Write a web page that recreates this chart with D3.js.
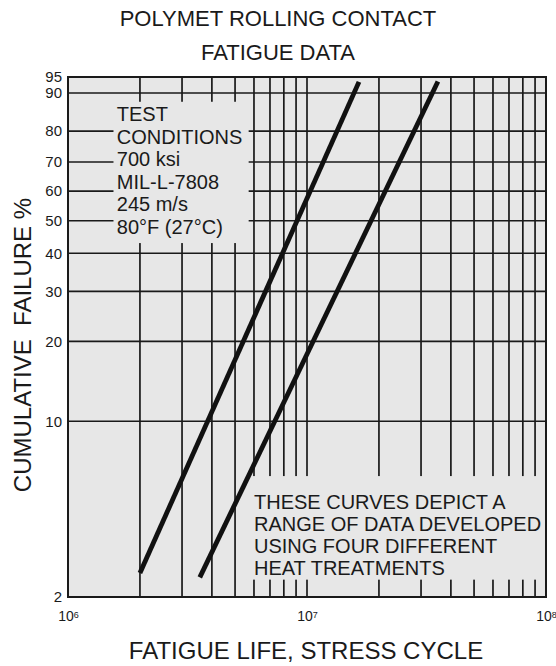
<!DOCTYPE html>
<html>
<head>
<meta charset="utf-8">
<script src="https://cdn.jsdelivr.net/npm/d3@7"></script>
<style>
  body { margin: 0; background: #fff; }
  svg { display: block; font-family: "Liberation Sans", Arial, sans-serif; }
</style>
</head>
<body>
<div id="chart"></div>
<script>
// percent failure ticks (weibull paper)
var pctTicks = [2, 10, 20, 30, 40, 50, 60, 70, 80, 90, 95];
// decades on the life axis
var decades = [1e6, 1e7, 1e8];
// two bounding curves: [life, cumulative %]
var lowLife = [2.0e6, 1.65e7],  lowPct = [2.5, 93.7];
var highLife = [3.56e6, 3.53e7], highPct = [2.4, 93.8];

var titleLines = ["POLYMET ROLLING CONTACT", "FATIGUE DATA"];
var testNotes = ["TEST", "CONDITIONS", "700 ksi", "MIL-L-7808", "245 m/s", "80°F (27°C)"];
var rangeNotes = ["THESE CURVES DEPICT A", "RANGE OF DATA DEVELOPED", "USING FOUR DIFFERENT", "HEAT TREATMENTS"];

var width = 556, height = 666,
    margin = { top: 77, left: 68, right: 10, bottom: 69 },
    innerW = width - margin.left - margin.right,
    innerH = height - margin.top - margin.bottom,
    ink = "#1a1a1a",
    paper = "#e7e7e7";

// weibull transform of percent failed
var wb = function(p){ return Math.log(-Math.log(1 - p / 100)); };

var xScale = d3.scaleLog().domain([1e6, 1e8]).range([0, innerW]);
var yScale = d3.scaleLinear()
    .domain([wb(2), wb(90), wb(95)])
    .range([innerH, 16, 0]);

var svg = d3.select("#chart").append("svg")
    .attr("width", width)
    .attr("height", height);

svg.selectAll(".title")
  .data(titleLines)
  .enter().append("text")
    .attr("class", "title")
    .attr("x", 278)
    .attr("y", function(d, i){ return 26 + i * 34; })
    .attr("text-anchor", "middle")
    .style("font-size", "22px")
    .attr("fill", ink)
    .text(function(d){ return d; });

var g = svg.append("g")
    .attr("transform", "translate(" + margin.left + "," + margin.top + ")");

g.append("rect")
    .attr("width", innerW)
    .attr("height", innerH)
    .attr("fill", paper);

// vertical grid: every 1..9 inside each decade
var minor = [];
decades.slice(0, -1).forEach(function(d){
  for (var k = 1; k < 10; k++) minor.push(d * k);
});
minor.push(1e8);

g.selectAll(".vgrid")
  .data(minor)
  .enter().append("line")
    .attr("class", "vgrid")
    .attr("x1", function(d){ return xScale(d); })
    .attr("x2", function(d){ return xScale(d); })
    .attr("y1", 0)
    .attr("y2", innerH)
    .attr("stroke", ink)
    .attr("stroke-width", 1.7);

g.selectAll(".hgrid")
  .data(pctTicks)
  .enter().append("line")
    .attr("class", "hgrid")
    .attr("x1", 0)
    .attr("x2", innerW)
    .attr("y1", function(d){ return yScale(wb(d)); })
    .attr("y2", function(d){ return yScale(wb(d)); })
    .attr("stroke", ink)
    .attr("stroke-width", 1.7);

// clear patches behind the two notes
var clearBoxes = [
  { x0: 1.55e6, x1: 5.7e6, p0: 88, p1: 43 },
  { x0: 5.6e6, x1: 9.6e7, p0: 6.1, p1: 2.35 }
];
g.selectAll(".clear")
  .data(clearBoxes)
  .enter().append("rect")
    .attr("x", function(d){ return xScale(d.x0); })
    .attr("width", function(d){ return xScale(d.x1) - xScale(d.x0); })
    .attr("y", function(d){ return yScale(wb(d.p0)); })
    .attr("height", function(d){ return yScale(wb(d.p1)) - yScale(wb(d.p0)); })
    .attr("fill", paper);

// frame
g.append("rect")
    .attr("width", innerW)
    .attr("height", innerH)
    .attr("fill", "none")
    .attr("stroke", ink)
    .attr("stroke-width", 2);

// y axis labels
var yAxis = d3.axisLeft(d3.scaleLinear().domain(yScale.domain()).range(yScale.range()))
    .tickValues(pctTicks.map(wb))
    .tickSize(0)
    .tickPadding(6)
    .tickFormat(function(d, i){ return pctTicks[i]; });
var yAxisG = g.append("g").call(yAxis);
yAxisG.select(".domain").remove();
yAxisG.selectAll("text")
    .style("font-size", "15px")
    .style("font-family", "'Liberation Sans', Arial, sans-serif")
    .attr("fill", ink);

// x axis labels, 10 with superscript exponent
var xAxis = d3.axisBottom(xScale)
    .tickValues(decades)
    .tickSize(0)
    .tickPadding(14)
    .tickFormat(function(){ return ""; });
var xAxisG = g.append("g")
    .attr("transform", "translate(0," + innerH + ")")
    .call(xAxis);
xAxisG.select(".domain").remove();
xAxisG.selectAll("text").each(function(d){
  var t = d3.select(this)
      .style("font-size", "14px")
      .style("font-family", "'Liberation Sans', Arial, sans-serif")
      .attr("fill", ink);
  t.append("tspan").text("10");
  t.append("tspan")
      .attr("dy", "-0.35em")
      .style("font-size", "9px")
      .text(Math.round(Math.log10(d)));
});

// curves
var line = d3.line()
    .x(function(d){ return xScale(d[0]); })
    .y(function(d){ return yScale(wb(d[1])); });

[[lowLife, lowPct], [highLife, highPct]].forEach(function(c){
  g.append("path")
    .datum(d3.zip(c[0], c[1]))
    .attr("fill", "none")
    .attr("stroke", "#111")
    .attr("stroke-width", 4.8)
    .attr("stroke-linecap", "butt")
    .attr("d", line);
});

// notes
g.selectAll(".testnote")
  .data(testNotes)
  .enter().append("text")
    .attr("x", xScale(1.6e6))
    .attr("y", function(d, i){ return 44 + i * 22.6; })
    .style("font-size", "20px")
    .attr("fill", ink)
    .text(function(d){ return d; });

g.selectAll(".rangenote")
  .data(rangeNotes)
  .enter().append("text")
    .attr("x", xScale(6.0e6))
    .attr("y", function(d, i){ return 432 + i * 22; })
    .style("font-size", "20px")
    .attr("fill", ink)
    .text(function(d){ return d; });

// axis titles
svg.append("text")
    .attr("x", 306)
    .attr("y", 659)
    .attr("text-anchor", "middle")
    .style("font-size", "24px")
    .attr("fill", ink)
    .text("FATIGUE LIFE, STRESS CYCLE");

svg.append("text")
    .attr("transform", "translate(31,345) rotate(-90)")
    .attr("text-anchor", "middle")
    .style("font-size", "24px")
    .attr("fill", ink)
    .style("white-space", "pre")
    .text("CUMULATIVE  FAILURE %");
</script>
</body>
</html>
